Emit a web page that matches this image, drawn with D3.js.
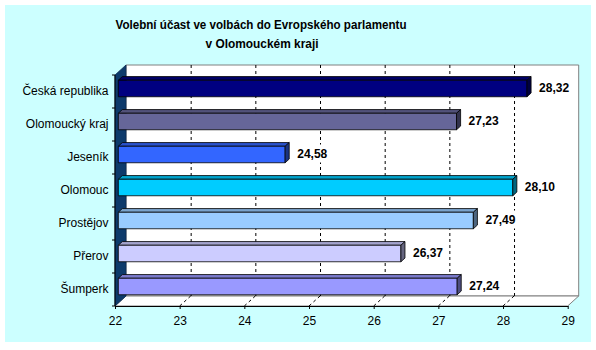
<!DOCTYPE html>
<html>
<head>
<meta charset="utf-8">
<script src="https://cdn.jsdelivr.net/npm/d3@7"></script>
<style>
  html, body { margin: 0; padding: 0; background: #ffffff; }
  svg { display: block; font-family: Arial, "Liberation Sans", sans-serif; }
</style>
</head>
<body>
<svg id="chart" width="596" height="350"></svg>
<script>
// Turnout in the European Parliament elections, Olomouc region
const titleLines = ["Volební účast ve volbách do Evropského parlamentu", "v Olomouckém kraji"];
const categories = ["Česká republika", "Olomoucký kraj", "Jeseník", "Olomouc", "Prostějov", "Přerov", "Šumperk"];
const turnout = [28.32, 27.23, 24.58, 28.10, 27.49, 26.37, 27.24];
const barColors = ["#000080", "#666699", "#3366FF", "#00CCFF", "#99CCFF", "#CCCCFF", "#9999FF"];
const xTicks = [22, 23, 24, 25, 26, 27, 28, 29];
const xDomain = [22, 29];

const svg = d3.select("#chart");

// pseudo-3D depth vector and the slice of depth occupied by the bars
const depth = { dx: 11, dy: -10 };
const barDepth = [0.3, 0.67];

const x = d3.scaleLinear().domain(xDomain).range([115, 567.7]);
const y = d3.scaleBand().domain(categories).range([75, 306]).paddingInner(0.5).paddingOuter(0.25);

const czech = d3.formatLocale({ decimal: ",", thousands: " ", grouping: [3], currency: ["", " Kč"] });
const fmt = czech.format(".2f");

const x0 = x.range()[0], x1 = x.range()[1];
const yTop = y.range()[0], yBot = y.range()[1];
const shift = (p, t) => [p[0] + depth.dx * t, p[1] + depth.dy * t];
const poly = pts => "M" + pts.map(p => p.join(",")).join("L") + "Z";

// chart area
svg.append("rect").attr("x", 5).attr("y", 5).attr("width", 586).attr("height", 337).attr("fill", "#CCFFFF");

// title
const title = svg.append("g").attr("font-weight", "bold").attr("font-size", 13.5).attr("fill", "#000").attr("text-anchor", "middle");
title.append("text").attr("x", 261).attr("y", 28.5).attr("textLength", 291).attr("lengthAdjust", "spacingAndGlyphs").text(titleLines[0]);
title.append("text").attr("x", 262).attr("y", 47.5).attr("textLength", 113).attr("lengthAdjust", "spacingAndGlyphs").text(titleLines[1]);

// back wall
const bw = [shift([x0, yTop], 1), shift([x1, yTop], 1), shift([x1, yBot], 1), shift([x0, yBot], 1)];
svg.append("path").attr("d", poly(bw)).attr("fill", "#ffffff").attr("stroke", "#808080").attr("stroke-width", 1);

// floor
const fl = [[x0, yBot], [x1, yBot], shift([x1, yBot], 1), shift([x0, yBot], 1)];
svg.append("path").attr("d", poly(fl)).attr("fill", "#ffffff").attr("stroke", "#808080").attr("stroke-width", 1);

// left wall
const lw = [[x0, yTop], shift([x0, yTop], 1), shift([x0, yBot], 1), [x0, yBot]];
svg.append("path").attr("d", poly(lw)).attr("fill", "#0D3A6B").attr("stroke", "#0A2A50").attr("stroke-width", 0.8);

// gridlines on the back wall and across the floor
const grid = svg.append("g").attr("stroke", "#000").attr("stroke-width", 1).attr("stroke-dasharray", "3,3");
xTicks.filter(v => v > xDomain[0] && v < xDomain[1]).forEach(v => {
  const xb = x(v) + depth.dx;
  grid.append("line").attr("x1", xb + 0.5).attr("x2", xb + 0.5).attr("y1", yTop + depth.dy).attr("y2", yBot + depth.dy);
  grid.append("line").attr("x1", x(v)).attr("y1", yBot).attr("x2", xb).attr("y2", yBot + depth.dy);
});

// bars: top face, front face, end face; value labels sit in white boxes
const bars = svg.append("g").attr("stroke", "#000").attr("stroke-width", 0.8).attr("stroke-linejoin", "round");
const labels = svg.append("g");
categories.forEach((c, i) => {
  const col = d3.color(barColors[i]);
  const topCol = d3.rgb(col.r * 0.8, col.g * 0.8, col.b * 0.8);
  const sideCol = d3.rgb(col.r * 0.5, col.g * 0.5, col.b * 0.5);
  const by0 = y(c), by1 = y(c) + y.bandwidth();
  const xv = x(turnout[i]);
  const fTL = shift([x0, by0], barDepth[0]), fTR = shift([xv, by0], barDepth[0]);
  const fBR = shift([xv, by1], barDepth[0]), fBL = shift([x0, by1], barDepth[0]);
  const bTL = shift([x0, by0], barDepth[1]), bTR = shift([xv, by0], barDepth[1]);
  const bBR = shift([xv, by1], barDepth[1]);
  bars.append("path").attr("d", poly([fTL, bTL, bTR, fTR])).attr("fill", topCol);
  bars.append("path").attr("d", poly([fTL, fTR, fBR, fBL])).attr("fill", col);
  bars.append("path").attr("d", poly([fTR, bTR, bBR, fBR])).attr("fill", sideCol);

  const lg = labels.append("g");
  const box = lg.append("rect").attr("fill", "#ffffff");
  const t = lg.append("text")
    .attr("x", bTR[0] + 8)
    .attr("y", (fTL[1] + fBL[1]) / 2 - 1)
    .attr("dominant-baseline", "central")
    .attr("font-size", 12).attr("font-weight", "bold").attr("fill", "#000")
    .text(fmt(turnout[i]));
  const bb = t.node().getBBox();
  box.attr("x", bb.x - 3).attr("y", bb.y - 2).attr("width", bb.width + 6).attr("height", bb.height + 4);
});

// front value axis
const xAxis = svg.append("g").attr("transform", `translate(0,${yBot})`)
  .call(d3.axisBottom(x).tickValues(xTicks).tickFormat(d3.format("d")).tickSizeInner(3).tickSizeOuter(0).tickPadding(7));
xAxis.select(".domain").attr("stroke", "#000");
xAxis.selectAll("text").attr("font-size", 12).attr("font-family", "Arial, 'Liberation Sans', sans-serif").attr("fill", "#000");

// category axis
svg.append("line").attr("x1", x0).attr("x2", x0).attr("y1", yTop).attr("y2", yBot).attr("stroke", "#000");
const step = y.step();
d3.range(categories.length + 1).forEach(k => {
  const yy = yTop + k * step;
  svg.append("line").attr("x1", x0 - 3).attr("x2", x0).attr("y1", yy).attr("y2", yy).attr("stroke", "#000");
});
const yAxis = svg.append("g").attr("transform", `translate(${x0 - 6.5},0)`)
  .call(d3.axisLeft(y).tickSize(0).tickPadding(0));
yAxis.select(".domain").remove();
yAxis.selectAll("text").attr("font-size", 12).attr("font-family", "Arial, 'Liberation Sans', sans-serif").attr("fill", "#000");
</script>
</body>
</html>
